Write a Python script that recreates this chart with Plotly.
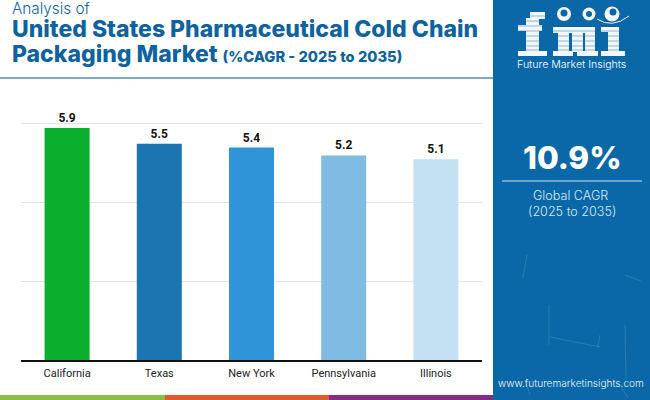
import plotly.graph_objects as go

categories = ["California", "Texas", "New York", "Pennsylvania", "Illinois"]
values = [5.9, 5.5, 5.4, 5.2, 5.1]
bar_colors = ["#0AAF2E", "#1A75B0", "#2F95D8", "#80BBE3", "#C3E1F3"]
W, H = 650, 400
BLUE = "#0B68A8"
TITLE = "#0E639F"

fig = go.Figure(go.Bar(
    x=categories, y=values, marker=dict(color=bar_colors, line_width=0),
    width=0.488, text=[f"{v:.1f}" for v in values], textposition="outside",
    textfont=dict(family="Roboto", size=12, color="#111111", weight=700),
    cliponaxis=False, hoverinfo="skip"))


def X(v): return v / W
def Y(v): return 1 - v / H


def rect(x0, y0, x1, y1, color, layer="below"):
    fig.add_shape(type="rect", xref="paper", yref="paper", x0=X(x0), x1=X(x1), y0=Y(y0), y1=Y(y1),
                  fillcolor=color, line_width=0, layer=layer)


def line(x0, y0, x1, y1, color, width=1, layer="above"):
    fig.add_shape(type="line", xref="paper", yref="paper", x0=X(x0), x1=X(x1), y0=Y(y0), y1=Y(y1),
                  line=dict(color=color, width=width), layer=layer)


def circle(cx, cy, r, color, layer="above"):
    fig.add_shape(type="circle", xref="paper", yref="paper", x0=X(cx - r), x1=X(cx + r), y0=Y(cy - r), y1=Y(cy + r),
                  fillcolor=color, line_width=0, layer=layer)


def text(x, y, s, size, color, family="Inter", weight=400, anchor="left"):
    fig.add_annotation(xref="paper", yref="paper", x=X(x), y=Y(y), text=s, showarrow=False,
                       xanchor=anchor, yanchor="middle", align=anchor,
                       font=dict(family=family, size=size, color=color, weight=weight))


# Frame, panel, footer
rect(493, 0, 650, 400, BLUE)
rect(0, 395, 165, 400, "#8BBE45")
rect(165, 395, 329, 400, "#E05A2B")
rect(329, 395, 493, 400, "#862C85")
line(0, 78, 493, 78, "#7FA8C9", 2)

# Faint panel texture
for seg in [(527, 255, 523, 278), (625, 275, 641, 281), (550, 337, 600, 347), (625, 325, 626, 380),
            (600, 335, 598, 347), (549, 305, 549, 345), (525, 380, 530, 395), (620, 385, 628, 398)]:
    line(*seg, "rgba(255,255,255,0.13)", 1)

# Title
text(10, 9, "Analysis of", 15.3, TITLE, "Inter", 300)
text(10, 29, "United States Pharmaceutical Cold Chain", 23, TITLE, "Inter", 800)
text(10, 54, "Packaging Market <span style='font-size:14.7px'>(%CAGR - 2025 to 2035)</span>", 23, TITLE, "Inter", 800)

# Logo: letters built from blocks, then cut by stripes
LOGO = "#F2F7FB"
logo_blocks = [
    (526, 18, 539, 52), (530, 12, 545, 19), (518, 25, 542, 31), (518, 51, 547, 56),   # f
    (553, 27, 595, 33), (558, 30, 569, 52), (572, 30, 583, 52), (585, 30, 595, 52),
    (553, 51, 573, 56), (577, 51, 598, 56),                                            # m
    (601, 27, 619, 32), (608, 30, 619, 52), (601, 51, 625, 56),                        # i
]
for b in logo_blocks:
    rect(*b, LOGO, "above")
for yy in [16, 21, 26, 31, 36, 41, 46, 50]:
    line(515, yy, 628, yy, "rgba(11,104,168,0.55)", 0.8)
circle(564, 14, 7, LOGO)
circle(589, 14, 6.5, LOGO)
circle(612, 14, 7.5, LOGO)
circle(564, 13, 3.5, BLUE)
circle(589, 14, 3, BLUE)
circle(613, 12, 3.5, BLUE)
fig.add_shape(type="path", xref="paper", yref="paper", layer="above",
              path=f"M {X(597)} {Y(19)} Q {X(612)} {Y(29)} {X(629)} {Y(16)}",
              line=dict(color=LOGO, width=1))
text(571, 64.5, "Future Market Insights", 10.6, "white", "Inter", 300, "center")

# KPI
text(572, 157, "10.9%", 31.5, "white", "Inter", 800, "center")
line(502, 181, 642, 181, "#8DBBDD", 1.5)
text(570, 195, "Global CAGR", 12.6, "#D7E8F4", "Inter", 300, "center")
text(572, 211, "(2025 to 2035)", 12.6, "#D7E8F4", "Inter", 300, "center")
text(571, 383, "www.futuremarketinsights.com", 10.1, "#E8F2F9", "Inter", 300, "center")

fig.update_layout(
    width=W, height=H, autosize=False, showlegend=False,
    margin=dict(l=0, r=0, t=0, b=0), paper_bgcolor="white", plot_bgcolor="white",
    xaxis=dict(domain=[21 / W, 482 / W], tickfont=dict(family="Roboto", size=11, color="#222222"),
               showline=True, linecolor="#111111", linewidth=1.5, ticks="", showgrid=False,
               automargin=False, ticklabelstandoff=2),
    yaxis=dict(domain=[1 - 360 / H, 1 - 122 / H], range=[0, 6.05], dtick=2, showticklabels=False,
               showgrid=True, gridcolor="#E4E4E4", gridwidth=1, zeroline=False, ticks="", automargin=False),
    bargap=0.5)
fig.write_html("out.html", config={"displayModeBar": False},
               post_script="document.body.style.margin='0';document.body.style.overflow='hidden';")
